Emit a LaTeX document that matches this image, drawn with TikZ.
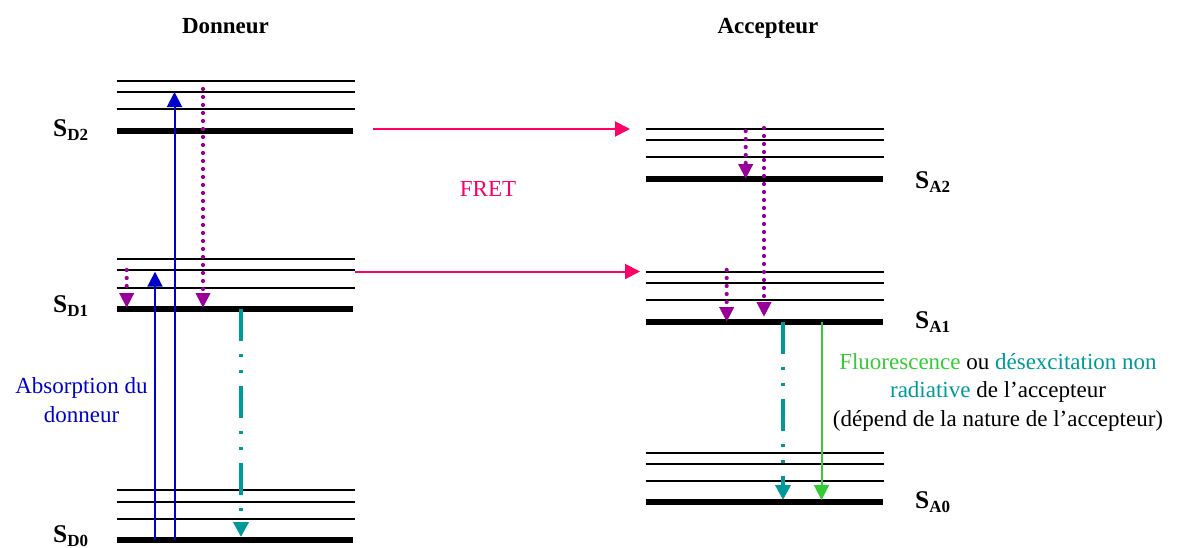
\documentclass[tikz,border=0pt]{standalone}
\usepackage{fontspec}
\setmainfont{Liberation Serif}
\usetikzlibrary{arrows.meta}
\definecolor{fretpink}{HTML}{FF0066}
\definecolor{absblue}{HTML}{0000CC}
\definecolor{vibpurple}{HTML}{990099}
\definecolor{nrteal}{HTML}{009999}
\definecolor{fluogreen}{HTML}{33CC33}
\newcommand{\lvlS}[1]{\textbf{S\raisebox{-4.6pt}{\fontsize{17}{17}\selectfont #1}}}
\tikzset{
  txt/.style={inner sep=0pt, font=\fontsize{23}{28.5}\selectfont},
  title/.style={txt, font=\fontsize{23}{28}\selectfont\bfseries},
  slabel/.style={inner sep=0pt, anchor=base west, font=\fontsize{25.5}{28}\selectfont},
  thinlvl/.style={line width=1.7pt, black},
  thicklvl/.style={line width=6pt, black},
  blueup/.style={absblue, line width=2pt, -{Triangle[length=15pt,width=15pt]}},
  purpledot/.style={vibpurple, line width=4.2pt, line cap=round, dash pattern=on 0pt off 8pt, -{Triangle[length=15pt,width=14pt]}},
  tealdash/.style={nrteal, line width=4pt, dash pattern=on 32pt off 13pt on 3pt off 13pt on 3pt off 13pt, -{Triangle[length=15pt,width=15pt]}},
  greenarr/.style={fluogreen, line width=2pt, -{Triangle[length=15pt,width=15pt]}},
  fretarr/.style={fretpink, line width=2pt, -{Triangle[length=15pt,width=15pt]}},
}
\begin{document}
\begin{tikzpicture}[x=1pt,y=-1pt]
\useasboundingbox (0,0) rectangle (1179,547);

% titles
\node[title, anchor=base] (tdon) at (225.5,33) {Donneur};
\node[title, anchor=base] (tacc) at (768,33) {Accepteur};

% donor levels
\draw[thinlvl] (116.7,81) -- (355,81);
\draw[thinlvl] (116.7,92.3) -- (355,92.3);
\draw[thinlvl] (116.7,109.3) -- (355,109.3);
\draw[thicklvl] (116.7,131.3) -- (353.3,131.3);
\draw[thinlvl] (116.7,259) -- (355,259);
\draw[thinlvl] (116.7,270.3) -- (355,270.3);
\draw[thinlvl] (116.7,287.7) -- (355,287.7);
\draw[thicklvl] (116.7,309.3) -- (353.3,309.3);
\draw[thinlvl] (116.7,490.3) -- (355,490.3);
\draw[thinlvl] (116.7,501.7) -- (355,501.7);
\draw[thinlvl] (116.7,519) -- (355,519);
\draw[thicklvl] (116.7,540.3) -- (353.3,540.3);

% acceptor levels
\draw[thinlvl] (645.7,128.7) -- (884,128.7);
\draw[thinlvl] (645.7,140) -- (884,140);
\draw[thinlvl] (645.7,157.3) -- (884,157.3);
\draw[thicklvl] (645.7,179) -- (883,179);
\draw[thinlvl] (645.7,271.7) -- (884,271.7);
\draw[thinlvl] (645.7,282.7) -- (884,282.7);
\draw[thinlvl] (645.7,300) -- (884,300);
\draw[thicklvl] (645.7,321.7) -- (883,321.7);
\draw[thinlvl] (645.7,452.7) -- (884,452.7);
\draw[thinlvl] (645.7,463.7) -- (884,463.7);
\draw[thinlvl] (645.7,481) -- (884,481);
\draw[thicklvl] (645.7,502) -- (883,502);

% level labels
\node[slabel] (sd2) at (53,136) {\lvlS{D2}};
\node[slabel] (sd1) at (53,312) {\lvlS{D1}};
\node[slabel] (sd0) at (53,542) {\lvlS{D0}};
\node[slabel] (sa2) at (915,188) {\lvlS{A2}};
\node[slabel] (sa1) at (915,328) {\lvlS{A1}};
\node[slabel] (sa0) at (915,508) {\lvlS{A0}};

% endpoints
\coordinate (b1s) at (155,540);   \coordinate (b1e) at (155,271.7);
\coordinate (b2s) at (174.5,540); \coordinate (b2e) at (174.5,92);
\coordinate (p1s) at (126.7,270); \coordinate (p1e) at (126.7,308);
\coordinate (p2s) at (203,89);    \coordinate (p2e) at (203,308);
\coordinate (t1s) at (241,309);   \coordinate (t1e) at (241,537);
\coordinate (p3s) at (745.7,131); \coordinate (p3e) at (745.7,179);
\coordinate (p4s) at (764,128);   \coordinate (p4e) at (764,317);
\coordinate (p5s) at (726.7,270); \coordinate (p5e) at (726.7,322);
\coordinate (t2s) at (783,322);   \coordinate (t2e) at (783,500);
\coordinate (g1s) at (821.5,322); \coordinate (g1e) at (821.5,500);
\coordinate (f1s) at (373,129);   \coordinate (f1e) at (630,129);
\coordinate (f2s) at (355,271.5); \coordinate (f2e) at (640,271.5);

% donor transitions
\draw[blueup] (b1s) -- (b1e);
\draw[blueup] (b2s) -- (b2e);
\draw[purpledot] (p1s) -- (p1e);
\draw[purpledot] (p2s) -- (p2e);
\draw[tealdash] (t1s) -- (t1e);

% acceptor transitions
\draw[purpledot] (p3s) -- (p3e);
\draw[purpledot] (p4s) -- (p4e);
\draw[purpledot] (p5s) -- (p5e);
\draw[tealdash] (t2s) -- (t2e);
\draw[greenarr] (g1s) -- (g1e);

% FRET
\draw[fretarr] (f1s) -- (f1e);
\draw[fretarr] (f2s) -- (f2e);
\node[txt, text=fretpink, anchor=base] (fret) at (488,196) {FRET};

% texts (base anchor = last line)
\node[txt, text=absblue, align=center, anchor=base] (abs) at (81.5,422) {Absorption du\\donneur};
\node[txt, align=center, anchor=base] (fluo) at (998,426)
  {\textcolor{fluogreen}{Fluorescence} ou \textcolor{nrteal}{désexcitation non}\\
   \textcolor{nrteal}{radiative} de l'accepteur\\
   (dépend de la nature de l'accepteur)};
\end{tikzpicture}
\end{document}
